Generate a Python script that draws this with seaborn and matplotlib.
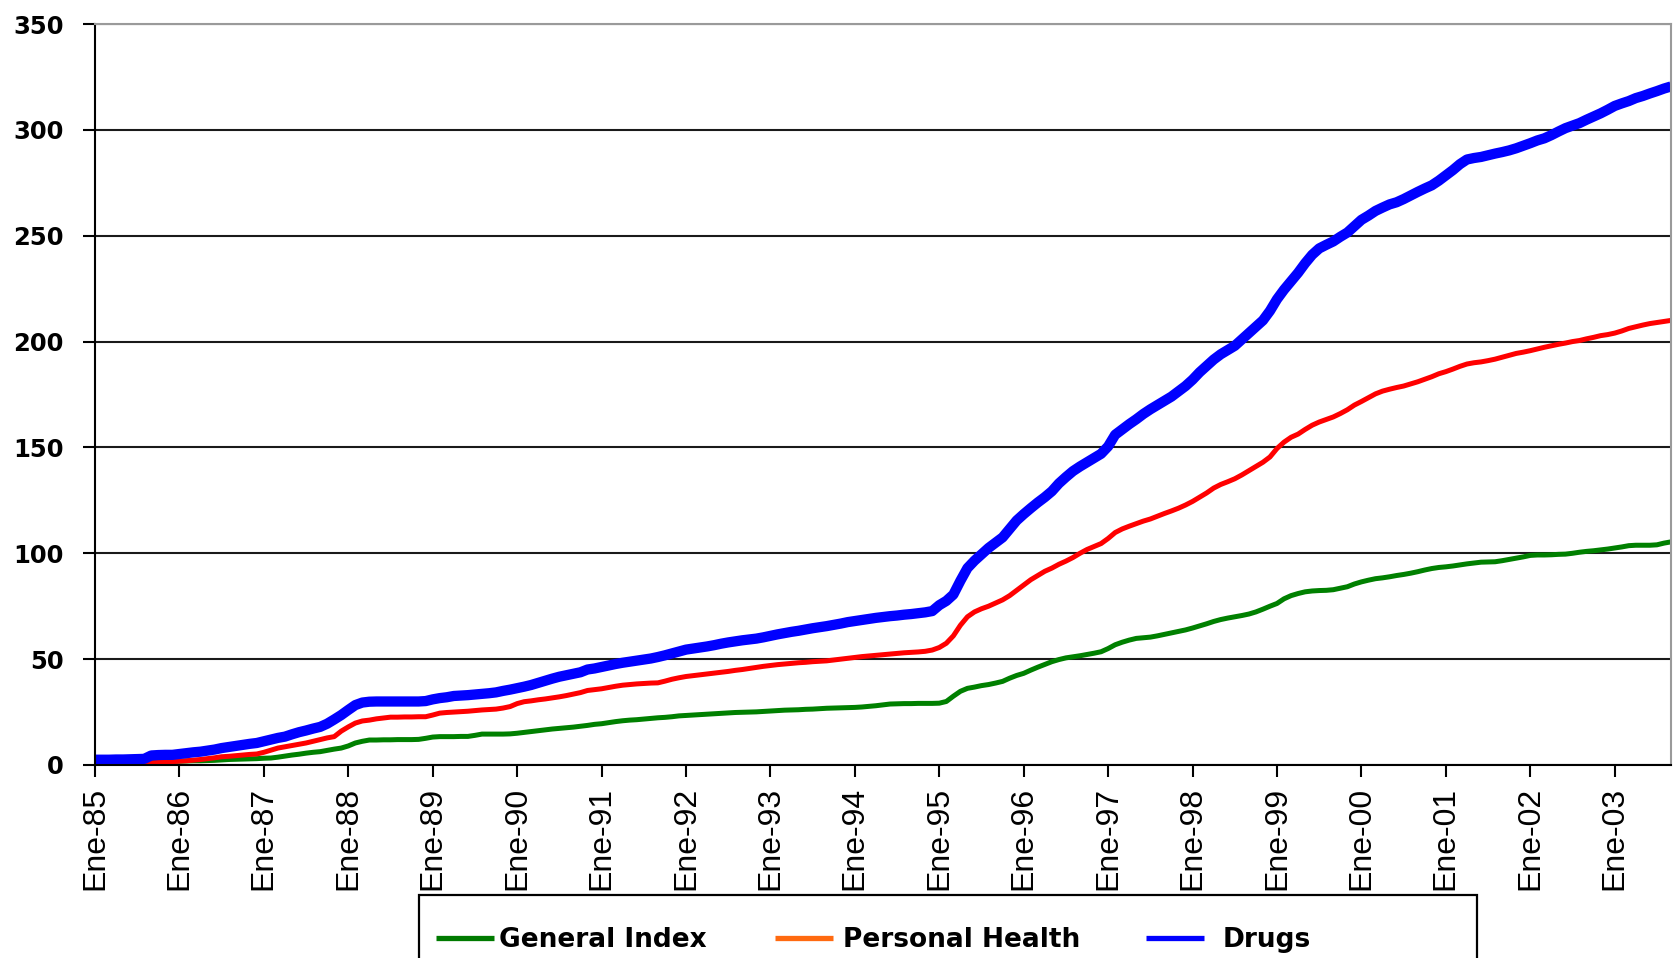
import numpy as np
import pandas as pd
import matplotlib
matplotlib.use("Agg")
import matplotlib.pyplot as plt
from matplotlib.lines import Line2D
from matplotlib.patches import Rectangle
import seaborn as sns

# Monthly index values, January 1985 onwards (one row per year)
general_index = [
    0, 0, 0.1, 0.2, 0.3, 0.4, 0.6, 0.8, 1.4, 1.5, 1.6, 1.7,
    1.8, 1.9, 2.0, 2.0, 2.1, 2.2, 2.4, 2.6, 2.7, 2.8, 2.9, 3.0,
    3.2, 3.3, 3.7, 4.2, 4.7, 5.1, 5.6, 6.0, 6.3, 6.9, 7.5, 8.0,
    9.0, 10.4, 11.2, 11.8, 11.8, 11.9, 11.9, 12.0, 12.0, 12.0, 12.1, 12.6,
    13.2, 13.4, 13.4, 13.4, 13.5, 13.5, 14.0, 14.6, 14.6, 14.6, 14.6, 14.7,
    15.0, 15.4, 15.8, 16.2, 16.6, 17.0, 17.3, 17.6, 17.9, 18.3, 18.7, 19.2,
    19.5, 20.0, 20.5, 20.9, 21.2, 21.4, 21.7, 22.0, 22.3, 22.5, 22.8, 23.2,
    23.4, 23.6, 23.8, 24.0, 24.2, 24.4, 24.6, 24.8, 24.9, 25.0, 25.1, 25.3,
    25.5, 25.7, 25.9, 26.0, 26.1, 26.3, 26.4, 26.6, 26.8, 26.9, 27.0, 27.1,
    27.2, 27.4, 27.7, 28.0, 28.4, 28.8, 28.9, 29.0, 29.0, 29.1, 29.1, 29.1,
    29.2, 30.0, 32.5, 34.8, 36.2, 36.8, 37.5, 38.0, 38.7, 39.5, 41.0, 42.3,
    43.3, 44.8, 46.2, 47.5, 48.8, 49.8, 50.6, 51.1, 51.6, 52.2, 52.8, 53.5,
    55.0, 56.8, 58.0, 59.0, 59.8, 60.1, 60.4, 61.0, 61.7, 62.4, 63.1, 63.8,
    64.7, 65.7, 66.7, 67.8, 68.7, 69.4, 70.0, 70.6, 71.3, 72.3, 73.6, 75.0,
    76.3, 78.5, 80.0, 81.0, 81.8, 82.2, 82.4, 82.5, 82.8, 83.5, 84.2, 85.5,
    86.5, 87.3, 88.0, 88.4, 88.9, 89.5, 90.0, 90.6, 91.3, 92.1, 92.8, 93.3,
    93.6, 94.0, 94.5, 95.0, 95.4, 95.8, 95.9, 96.0, 96.5, 97.1, 97.7, 98.3,
    99.0, 99.2, 99.2, 99.3, 99.5, 99.6, 100.0, 100.5, 100.9, 101.2, 101.6, 102.0,
    102.5, 103.0, 103.6, 103.8, 103.8, 103.8, 104.0, 104.8, 105.4,
]

personal_health = [
    0, 0, 0, 0, 0.2, 0.4, 0.6, 0.8, 1.0, 1.2, 1.4, 1.6,
    1.8, 2.0, 2.3, 2.6, 3.0, 3.4, 3.9, 4.1, 4.4, 4.7, 5.0, 5.2,
    6.0, 7.0, 8.0, 8.6, 9.2, 9.8, 10.4, 11.2, 12.0, 12.8, 13.4, 16.0,
    18.0, 19.8, 20.8, 21.2, 21.8, 22.2, 22.6, 22.6, 22.7, 22.7, 22.8, 22.8,
    23.6, 24.5, 24.8, 25.0, 25.2, 25.4, 25.7, 26.0, 26.2, 26.4, 26.9, 27.6,
    29.0, 29.9, 30.3, 30.8, 31.2, 31.7, 32.2, 32.8, 33.5, 34.2, 35.2, 35.6,
    36.0, 36.6, 37.2, 37.7, 38.0, 38.3, 38.5, 38.7, 38.8, 39.6, 40.5, 41.2,
    41.8, 42.2, 42.6, 43.0, 43.4, 43.8, 44.2, 44.7, 45.1, 45.6, 46.1, 46.6,
    47.0, 47.4, 47.7, 48.0, 48.3, 48.5, 48.8, 49.0, 49.2, 49.6, 50.0, 50.4,
    50.8, 51.2, 51.5, 51.8, 52.1, 52.4, 52.7, 53.0, 53.2, 53.4, 53.7, 54.3,
    55.5, 57.5, 61.0, 66.0, 70.0, 72.3, 73.8, 75.0, 76.5, 78.0, 80.0, 82.5,
    85.0, 87.5, 89.5, 91.5, 93.0, 94.8, 96.3, 98.0, 100.0, 101.8, 103.2, 104.6,
    107.0, 109.8, 111.5, 112.8, 114.0, 115.2, 116.2, 117.5, 118.8, 120.0, 121.3, 122.8,
    124.5, 126.5, 128.5, 130.8, 132.5, 133.8, 135.2, 137.0, 139.0, 141.0, 143.0, 145.5,
    149.5, 152.5, 154.8, 156.3, 158.5, 160.5, 162.0, 163.2, 164.4, 166.0, 167.8, 170.0,
    171.7, 173.5, 175.3, 176.6, 177.5, 178.3, 179.0, 180.0, 181.0, 182.2, 183.4, 184.8,
    185.8, 187.0, 188.3, 189.4, 190.0, 190.4, 191.0, 191.7, 192.6, 193.5, 194.4, 195.0,
    195.7, 196.5, 197.3, 198.0, 198.7, 199.3, 200.0, 200.5, 201.3, 202.0, 202.8, 203.3,
    204.0, 205.0, 206.2, 207.0, 207.8, 208.5, 209.0, 209.5, 210.0,
]

drugs = [
    2.5, 2.5, 2.5, 2.6, 2.6, 2.7, 2.8, 2.9, 4.5, 4.7, 4.8, 4.8,
    5.2, 5.6, 6.0, 6.3, 6.8, 7.3, 8.0, 8.5, 9.0, 9.5, 10.0, 10.4,
    11.2, 12.0, 12.8, 13.4, 14.5, 15.5, 16.3, 17.2, 18.0, 19.5, 21.5, 23.6,
    26.0, 28.3, 29.5, 29.9, 30.0, 30.0, 30.0, 30.0, 30.0, 30.0, 30.0, 30.2,
    31.0, 31.6, 32.0, 32.6, 32.8, 33.0, 33.3, 33.6, 33.9, 34.3, 35.0, 35.6,
    36.3, 37.0, 37.8, 38.8, 39.8, 40.8, 41.7, 42.4, 43.1, 43.8, 45.1, 45.6,
    46.3, 47.0, 47.7, 48.3, 48.8, 49.3, 49.8, 50.3, 51.0, 51.8, 52.7, 53.6,
    54.5, 55.0, 55.5, 56.0, 56.6, 57.3, 57.9, 58.4, 58.9, 59.3, 59.7, 60.3,
    61.0, 61.7, 62.3, 62.9, 63.4, 64.0, 64.6, 65.1, 65.6, 66.2, 66.8, 67.5,
    68.0, 68.5, 69.0, 69.5, 69.9, 70.3, 70.6, 71.0, 71.3, 71.7, 72.1, 72.7,
    75.5, 77.5, 80.5, 87.0, 93.0, 96.5, 99.5, 102.5, 105.0, 107.5, 111.5, 115.5,
    118.5, 121.3, 124.0, 126.5, 129.3, 133.0, 136.0, 138.8, 141.0, 143.0, 145.0, 147.0,
    150.5, 156.0, 158.5, 161.0, 163.3, 165.8, 168.0, 170.0, 172.0, 174.0, 176.5, 179.0,
    182.0, 185.5, 188.5, 191.5, 194.0, 196.0, 198.0, 201.0, 204.0, 207.0, 210.0, 214.5,
    220.0, 224.5, 228.5, 232.5, 237.0, 241.0, 244.0, 245.7, 247.3, 249.5, 251.5, 254.5,
    257.5, 259.5, 261.7, 263.3, 264.8, 265.8, 267.3, 269.0, 270.7, 272.3, 273.8, 276.0,
    278.5, 281.0, 283.8, 286.0, 286.7, 287.2, 288.0, 288.8, 289.5, 290.3, 291.3, 292.5,
    293.7, 295.0, 296.0, 297.5, 299.2, 300.8, 302.0, 303.2, 304.8, 306.3, 307.8, 309.5,
    311.3, 312.5, 313.6, 315.0, 316.0, 317.2, 318.3, 319.5, 320.5,
]

series_names = ["General Index", "Personal Health", "Drugs"]
line_colors = {"General Index": "#008000", "Personal Health": "#FF0000", "Drugs": "#0000FF"}
legend_colors = ["#007A00", "#FF6A10", "#0000FF"]
line_widths = {"General Index": 3.6, "Personal Health": 3.6, "Drugs": 7.4}

tick_labels = ["Ene-85", "Ene-86", "Ene-87", "Ene-88", "Ene-89", "Ene-90", "Ene-91",
               "Ene-92", "Ene-93", "Ene-94", "Ene-95", "Ene-96", "Ene-97", "Ene-98",
               "Ene-99", "Ene-00", "Ene-01", "Ene-02", "Ene-03"]
y_ticks = [0, 50, 100, 150, 200, 250, 300, 350]

n = len(drugs)
month = np.arange(n)
df = pd.concat([
    pd.DataFrame({"month": month, "value": vals, "series": name})
    for name, vals in zip(series_names, [general_index, personal_health, drugs])
], ignore_index=True)

sns.set_style("white")
plt.rcParams["font.family"] = ["DejaVu Sans"]
plt.rcParams["text.color"] = "black"
plt.rcParams["xtick.color"] = "black"
plt.rcParams["ytick.color"] = "black"

W, H = 1675, 958
fig = plt.figure(figsize=(W / 100, H / 100), dpi=100)
ax = fig.add_axes([95 / W, 1 - 765 / H, (1671 - 95) / W, (765 - 24) / H])

sns.lineplot(data=df, x="month", y="value", hue="series", hue_order=series_names,
             palette=line_colors, size="series", sizes=line_widths,
             size_order=series_names, legend=False, ax=ax,
             solid_capstyle="butt")

ax.set_xlim(0, n - 1)
ax.set_ylim(0, 350)
ax.set_xlabel("")
ax.set_ylabel("")

ax.set_xticks(np.arange(0, 12 * len(tick_labels), 12))
ax.set_xticklabels(tick_labels, rotation=90, fontsize=23, family="Liberation Sans",
                   color="black")
ax.set_yticks(y_ticks)
ax.set_yticklabels([str(v) for v in y_ticks], fontsize=17.5, fontweight="bold",
                   color="black")

ax.tick_params(axis="x", direction="out", length=8.6, width=1.5, color="black", pad=7, bottom=True)
ax.tick_params(axis="y", direction="out", length=8.6, width=1.5, color="black", pad=14, left=True)

ax.set_axisbelow(True)
ax.yaxis.grid(True, color="#1a1a1a", linewidth=1.5)
ax.xaxis.grid(False)

for side in ["left", "bottom"]:
    ax.spines[side].set_color("black")
    ax.spines[side].set_linewidth(1.5)
for side in ["top", "right"]:
    ax.spines[side].set_color("#9a9a9a")
    ax.spines[side].set_linewidth(1.5)

# Legend box along the bottom edge, one entry per series
fig.patches.append(Rectangle((419 / W, -0.05), (1477 - 419) / W, (958 - 895) / H + 0.05,
                             transform=fig.transFigure, facecolor="white",
                             edgecolor="black", linewidth=1.6, zorder=1))
entry_x = [436, 775, 1146]
entry_pad = [0.2, 0.38, 0.72]
for name, color, x0, pad in zip(series_names, legend_colors, entry_x, entry_pad):
    handle = Line2D([0], [0], color=color, linewidth=3.8, solid_capstyle="butt")
    leg = fig.legend([handle], [name], loc="center left",
                     bbox_to_anchor=(x0 / W, 1 - 940 / H), frameon=False,
                     borderpad=0, borderaxespad=0, handlelength=2.2,
                     handletextpad=pad, prop={"weight": "bold", "size": 19})
    for t in leg.get_texts():
        t.set_color("black")

fig.savefig("out.png", dpi=100)
